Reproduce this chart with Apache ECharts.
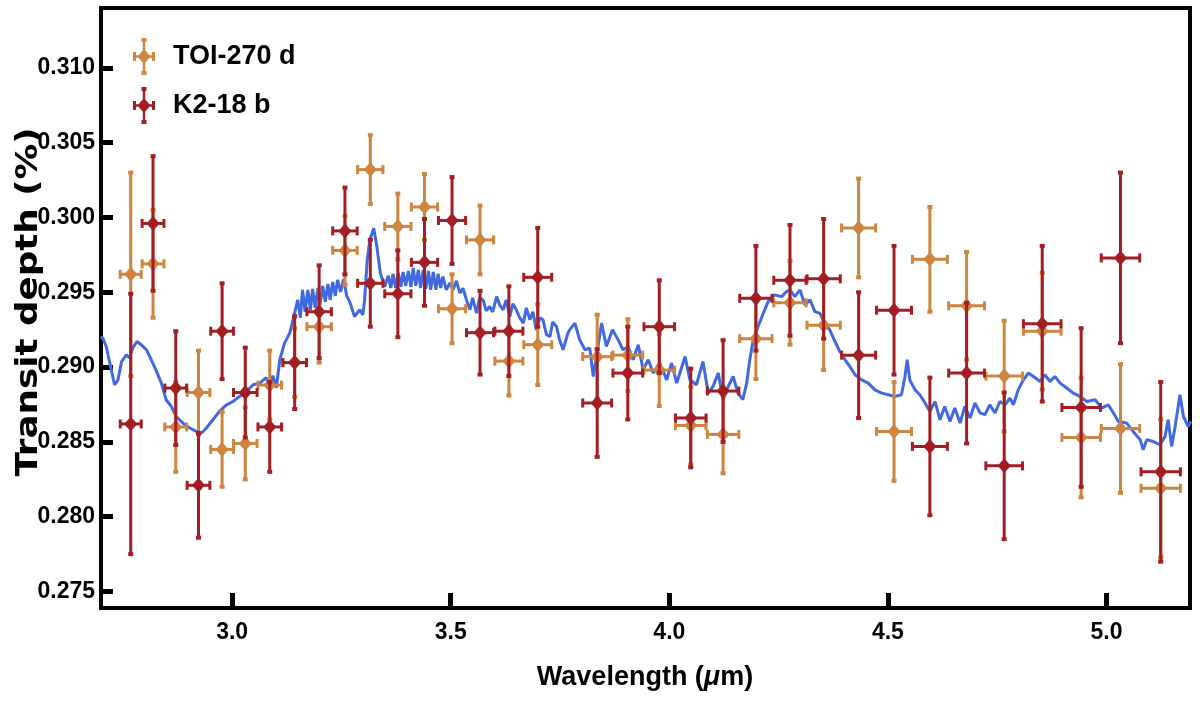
<!DOCTYPE html>
<html>
<head>
  <meta charset="UTF-8">
  <title>Transit depth spectrum</title>
  <style>
    html, body { margin: 0; padding: 0; background: #fff; }
    #chart { width: 1200px; height: 701px; }
  </style>
  <script src="https://cdn.jsdelivr.net/npm/echarts@6/dist/echarts.min.js"></script>
</head>
<body>
  <div id="chart"></div>
  <script>
    // spectral bins shared by both planets (centre and half width, micron)
    var binWave = [2.768, 2.819, 2.871, 2.923, 2.977, 3.030, 3.086, 3.143, 3.199, 3.258,
      3.316, 3.379, 3.440, 3.503, 3.567, 3.633, 3.699, 3.835, 3.905, 3.977,
      4.049, 4.123, 4.198, 4.276, 4.353, 4.433, 4.514, 4.596, 4.680, 4.766,
      4.853, 4.942, 5.032, 5.124];
    var binHalfWidth = [0.024, 0.025, 0.025, 0.026, 0.026, 0.027, 0.027, 0.027, 0.028, 0.028,
      0.029, 0.030, 0.030, 0.031, 0.031, 0.032, 0.032, 0.033, 0.034, 0.035,
      0.035, 0.036, 0.037, 0.037, 0.038, 0.039, 0.040, 0.040, 0.041, 0.042,
      0.043, 0.044, 0.044, 0.045];

    var toiDepth = [0.2962, 0.2969, 0.2860, 0.2883, 0.2845, 0.2849, 0.2888, 0.2903, 0.2927, 0.2978,
      0.3032, 0.2994, 0.3007, 0.2939, 0.2985, 0.2904, 0.2915, 0.2907, 0.2908, 0.2898,
      0.2861, 0.2855, 0.2919, 0.2943, 0.2928, 0.2993, 0.2857, 0.2972, 0.2941, 0.2894,
      0.2924, 0.2853, 0.2859, 0.2819];
    var toiErr = [0.0068, 0.0036, 0.0030, 0.0028, 0.0025, 0.0024, 0.0023, 0.0023, 0.0024, 0.0023,
      0.0023, 0.0022, 0.0022, 0.0023, 0.0023, 0.0023, 0.0027, 0.0028, 0.0024, 0.0024,
      0.0026, 0.0026, 0.0027, 0.0028, 0.0030, 0.0033, 0.0033, 0.0035, 0.0036, 0.0037,
      0.0039, 0.0040, 0.0043, 0.0046];

    var k2Depth = [0.2862, 0.2996, 0.2886, 0.2821, 0.2924, 0.2883, 0.2860, 0.2903, 0.2937, 0.2991,
      0.2956, 0.2949, 0.2970, 0.2998, 0.2923, 0.2924, 0.2960, 0.2876, 0.2896, 0.2927,
      0.2866, 0.2884, 0.2946, 0.2958, 0.2959, 0.2908, 0.2938, 0.2847, 0.2896, 0.2834,
      0.2929, 0.2873, 0.2973, 0.2830];
    var k2Err = [0.0087, 0.0045, 0.0038, 0.0035, 0.0032, 0.0030, 0.0030, 0.0031, 0.0031, 0.0029,
      0.0029, 0.0029, 0.0029, 0.0029, 0.0028, 0.0030, 0.0033, 0.0036, 0.0031, 0.0031,
      0.0033, 0.0034, 0.0035, 0.0037, 0.0040, 0.0042, 0.0043, 0.0046, 0.0047, 0.0049,
      0.0052, 0.0053, 0.0057, 0.0060];

    // model spectrum
    var modelWave = [2.699, 2.704, 2.712, 2.720, 2.731, 2.739, 2.747, 2.758, 2.765, 2.773,
      2.782, 2.792, 2.804, 2.815, 2.827, 2.838, 2.849, 2.861, 2.872, 2.887,
      2.903, 2.918, 2.930, 2.941, 2.956, 2.971, 2.987, 3.002, 3.017, 3.033,
      3.048, 3.063, 3.078, 3.086, 3.093, 3.101, 3.109, 3.120, 3.132, 3.143,
      3.150, 3.156, 3.161, 3.167, 3.173, 3.179, 3.184, 3.190, 3.196, 3.201,
      3.207, 3.213, 3.219, 3.224, 3.230, 3.236, 3.241, 3.248, 3.255, 3.262,
      3.269, 3.280, 3.292, 3.299, 3.303, 3.309, 3.315, 3.324, 3.331, 3.339,
      3.349, 3.357, 3.363, 3.368, 3.374, 3.380, 3.386, 3.391, 3.397, 3.403,
      3.409, 3.414, 3.420, 3.426, 3.431, 3.437, 3.443, 3.449, 3.454, 3.460,
      3.466, 3.471, 3.477, 3.482, 3.490, 3.498, 3.505, 3.513, 3.521, 3.528,
      3.536, 3.544, 3.550, 3.559, 3.566, 3.574, 3.581, 3.589, 3.596, 3.605,
      3.612, 3.620, 3.627, 3.635, 3.642, 3.650, 3.658, 3.666, 3.673, 3.681,
      3.688, 3.696, 3.704, 3.711, 3.719, 3.727, 3.733, 3.742, 3.749, 3.757,
      3.761, 3.768, 3.772, 3.784, 3.795, 3.807, 3.818, 3.826, 3.833, 3.845,
      3.856, 3.870, 3.883, 3.894, 3.906, 3.917, 3.929, 3.940, 3.952, 3.963,
      3.978, 3.994, 4.005, 4.017, 4.036, 4.047, 4.062, 4.077, 4.089, 4.100,
      4.112, 4.123, 4.135, 4.146, 4.157, 4.168, 4.177, 4.184, 4.192, 4.203,
      4.215, 4.226, 4.241, 4.257, 4.268, 4.276, 4.287, 4.299, 4.303, 4.310,
      4.322, 4.333, 4.344, 4.356, 4.367, 4.379, 4.390, 4.402, 4.413, 4.425,
      4.440, 4.455, 4.470, 4.486, 4.501, 4.516, 4.531, 4.539, 4.544, 4.550,
      4.562, 4.573, 4.585, 4.596, 4.608, 4.619, 4.630, 4.642, 4.653, 4.665,
      4.676, 4.688, 4.699, 4.711, 4.722, 4.733, 4.745, 4.756, 4.768, 4.779,
      4.787, 4.798, 4.810, 4.821, 4.833, 4.848, 4.859, 4.871, 4.882, 4.894,
      4.909, 4.924, 4.939, 4.955, 4.974, 4.989, 5.004, 5.016, 5.027, 5.046,
      5.061, 5.077, 5.084, 5.092, 5.107, 5.122, 5.134, 5.141, 5.149, 5.157,
      5.168, 5.176, 5.187, 5.193];
    var modelDepth = [0.29202, 0.29194, 0.29138, 0.29029, 0.28882, 0.28915, 0.29037, 0.29082, 0.29062, 0.29129,
      0.29171, 0.29149, 0.29116, 0.29049, 0.28971, 0.28893, 0.28782, 0.28737, 0.28670, 0.28626,
      0.28593, 0.28570, 0.28559, 0.28593, 0.28648, 0.28704, 0.28748, 0.28770, 0.28804, 0.28837,
      0.28882, 0.28893, 0.28929, 0.28875, 0.28942, 0.28862, 0.29049, 0.29162, 0.29229, 0.29363,
      0.29449, 0.29329, 0.29516, 0.29369, 0.29516, 0.29383, 0.29523, 0.29396, 0.29529, 0.29416,
      0.29543, 0.29436, 0.29556, 0.29449, 0.29569, 0.29476, 0.29583, 0.29503, 0.29589, 0.29476,
      0.29436, 0.29338, 0.29383, 0.29349, 0.29449, 0.29716, 0.29850, 0.29928, 0.29805, 0.29628,
      0.29538, 0.29610, 0.29529, 0.29623, 0.29529, 0.29630, 0.29536, 0.29636, 0.29543, 0.29643,
      0.29536, 0.29663, 0.29543, 0.29650, 0.29529, 0.29650, 0.29523, 0.29643, 0.29516, 0.29636,
      0.29516, 0.29623, 0.29529, 0.29605, 0.29516, 0.29563, 0.29516, 0.29576, 0.29494, 0.29527,
      0.29449, 0.29383, 0.29463, 0.29361, 0.29463, 0.29449, 0.29376, 0.29405, 0.29369, 0.29471,
      0.29416, 0.29383, 0.29449, 0.29338, 0.29423, 0.29383, 0.29329, 0.29294, 0.29396, 0.29316,
      0.29369, 0.29249, 0.29329, 0.29316, 0.29216, 0.29204, 0.29302, 0.29271, 0.29182, 0.29116,
      0.29104, 0.29227, 0.29249, 0.29294, 0.29182, 0.29116, 0.29127, 0.28937, 0.29062, 0.29294,
      0.29138, 0.29249, 0.29182, 0.29116, 0.29138, 0.29049, 0.29149, 0.28982, 0.29049, 0.28960,
      0.29027, 0.28915, 0.29027, 0.28893, 0.29071, 0.28915, 0.28882, 0.29037, 0.28826, 0.28871,
      0.28960, 0.28782, 0.28871, 0.28937, 0.28826, 0.28782, 0.28893, 0.29049, 0.29182, 0.29271,
      0.29361, 0.29438, 0.29483, 0.29471, 0.29505, 0.29516, 0.29471, 0.29516, 0.29529, 0.29416,
      0.29449, 0.29371, 0.29361, 0.29294, 0.29249, 0.29171, 0.29104, 0.29049, 0.29004, 0.28949,
      0.28915, 0.28893, 0.28848, 0.28826, 0.28815, 0.28804, 0.28815, 0.28937, 0.29049, 0.28915,
      0.28848, 0.28815, 0.28760, 0.28704, 0.28770, 0.28648, 0.28737, 0.28637, 0.28726, 0.28626,
      0.28737, 0.28660, 0.28760, 0.28693, 0.28682, 0.28748, 0.28693, 0.28770, 0.28748, 0.28793,
      0.28748, 0.28848, 0.28915, 0.28960, 0.28937, 0.28904, 0.28949, 0.28904, 0.28937, 0.28893,
      0.28860, 0.28826, 0.28804, 0.28770, 0.28782, 0.28726, 0.28748, 0.28693, 0.28637, 0.28626,
      0.28570, 0.28515, 0.28448, 0.28515, 0.28503, 0.28481, 0.28537, 0.28648, 0.28470, 0.28603,
      0.28815, 0.28670, 0.28603, 0.28637];

    var xTicks = [3.0, 3.5, 4.0, 4.5, 5.0];
    var yTicks = [0.275, 0.280, 0.285, 0.290, 0.295, 0.300, 0.305, 0.310];

    var labelFont = "'Liberation Sans', Arial, sans-serif";
    var toiColor = '#CD853F';
    var k2Color = '#A31E22';
    var modelColor = '#4169E1';

    // cross-shaped error bar icon for the legend (22 x 37 box)
    var errIcon = 'path://M9.8 2L12.2 2L12.2 35L9.8 35Z' +
      'M8.5 0L13.5 0L13.5 4L8.5 4Z M8.5 33L13.5 33L13.5 37L8.5 37Z' +
      'M1 17.3L21 17.3L21 19.7L1 19.7Z' +
      'M0 14L3 14L3 23L0 23Z M19 14L22 14L22 23L19 23Z' +
      'M11 11L17.5 18.5L11 26L4.5 18.5Z';

    function buildPoints(depth, err) {
      return binWave.map(function (w, i) {
        return [w, depth[i], binHalfWidth[i], err[i]];
      });
    }

    function errorBarItem(color) {
      return function (params, api) {
        var x = api.value(0), y = api.value(1), xe = api.value(2), ye = api.value(3);
        var c = api.coord([x, y]);
        var left = api.coord([x - xe, y]);
        var right = api.coord([x + xe, y]);
        var top = api.coord([x, y + ye]);
        var bottom = api.coord([x, y - ye]);
        var stroke = { stroke: color, lineWidth: 3 };
        var fill = { fill: color };
        return {
          type: 'group',
          children: [
            { type: 'line', shape: { x1: c[0], y1: top[1], x2: c[0], y2: bottom[1] }, style: stroke },
            { type: 'line', shape: { x1: left[0], y1: c[1], x2: right[0], y2: c[1] }, style: stroke },
            { type: 'rect', shape: { x: c[0] - 2.5, y: top[1] - 2, width: 5, height: 4 }, style: fill },
            { type: 'rect', shape: { x: c[0] - 2.5, y: bottom[1] - 2, width: 5, height: 4 }, style: fill },
            { type: 'rect', shape: { x: left[0] - 1.5, y: c[1] - 4.5, width: 3, height: 9 }, style: fill },
            { type: 'rect', shape: { x: right[0] - 1.5, y: c[1] - 4.5, width: 3, height: 9 }, style: fill },
            {
              type: 'polygon',
              shape: { points: [[c[0], c[1] - 7.5], [c[0] + 6.5, c[1]], [c[0], c[1] + 7.5], [c[0] - 6.5, c[1]]] },
              style: fill
            }
          ]
        };
      };
    }

    var chart = echarts.init(document.getElementById('chart'));

    var option = {
      animation: false,
      backgroundColor: '#fff',
      grid: {
        left: 101, right: 10, top: 8, bottom: 93,
        show: true, borderColor: '#000', borderWidth: 4
      },
      legend: {
        orient: 'vertical',
        left: 128,
        top: 33,
        itemWidth: 22,
        itemHeight: 37,
        itemGap: 12,
        textStyle: { fontFamily: labelFont, fontWeight: 'bold', fontSize: 27, color: '#000', padding: [0, 0, 0, 13] },
        data: [{ name: 'TOI-270 d', icon: errIcon }, { name: 'K2-18 b', icon: errIcon }]
      },
      xAxis: {
        type: 'value',
        min: 2.7,
        max: 5.191,
        axisLine: { show: false },
        splitLine: { show: false },
        axisTick: { inside: true, length: 15, customValues: xTicks, lineStyle: { color: '#000', width: 5 } },
        axisLabel: {
          customValues: xTicks,
          formatter: function (v) { return v.toFixed(1); },
          fontFamily: labelFont, fontWeight: 'bold', fontSize: 23, color: '#000', margin: 13
        }
      },
      yAxis: {
        type: 'value',
        min: 0.2739,
        max: 0.3140,
        axisLine: { show: false },
        splitLine: { show: false },
        axisTick: { inside: true, length: 12, customValues: yTicks, lineStyle: { color: '#000', width: 5 } },
        axisLabel: {
          customValues: yTicks,
          formatter: function (v) { return v.toFixed(3); },
          fontFamily: labelFont, fontWeight: 'bold', fontSize: 23, color: '#000', margin: 6
        }
      },
      graphic: [
        {
          type: 'text',
          x: 29, y: 302,
          rotation: Math.PI / 2,
          scaleX: 1.19,
          style: {
            text: 'Transit depth (%)',
            font: "bold 30px 'DejaVu Sans'",
            fill: '#000',
            textAlign: 'center',
            textVerticalAlign: 'middle'
          }
        },
        {
          type: 'text',
          x: 645, y: 678,
          style: {
            text: '{n|Wavelength (}{i|μ}{n|m)}',
            textAlign: 'center',
            textVerticalAlign: 'middle',
            rich: {
              n: { fontFamily: labelFont, fontWeight: 'bold', fontSize: 27, fill: '#000' },
              i: { fontFamily: labelFont, fontWeight: 'bold', fontStyle: 'italic', fontSize: 27, fill: '#000' }
            }
          }
        }
      ],
      series: [
        {
          name: 'model',
          type: 'line',
          data: modelWave.map(function (w, i) { return [w, modelDepth[i]]; }),
          showSymbol: false,
          lineStyle: { color: modelColor, width: 3 },
          itemStyle: { color: modelColor },
          z: 1
        },
        {
          name: 'TOI-270 d',
          type: 'custom',
          renderItem: errorBarItem(toiColor),
          itemStyle: { color: toiColor },
          encode: { x: 0, y: 1 },
          data: buildPoints(toiDepth, toiErr),
          z: 3
        },
        {
          name: 'K2-18 b',
          type: 'custom',
          renderItem: errorBarItem(k2Color),
          itemStyle: { color: k2Color },
          encode: { x: 0, y: 1 },
          data: buildPoints(k2Depth, k2Err),
          z: 4
        }
      ]
    };

    chart.setOption(option);
  </script>
</body>
</html>
